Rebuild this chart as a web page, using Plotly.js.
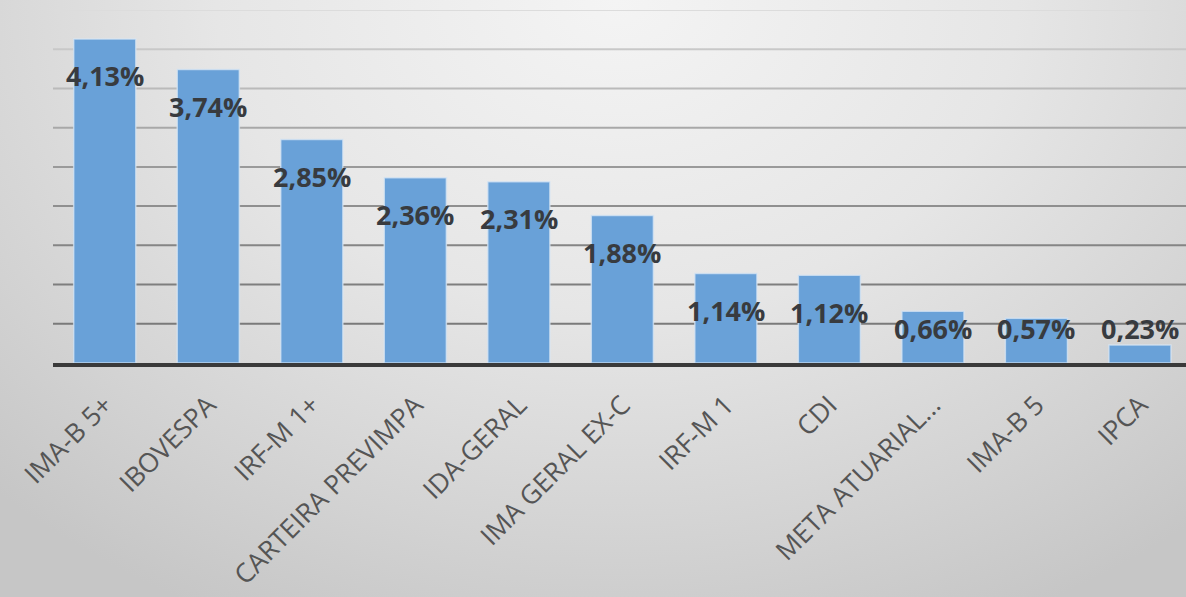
<!DOCTYPE html>
<html>
<head>
<meta charset="utf-8">
<script src="https://cdn.plot.ly/plotly-3.0.1.min.js"></script>
<style>
  html, body { margin: 0; padding: 0; }
  body {
    width: 1186px; height: 597px; overflow: hidden;
    background: radial-gradient(ellipse 75% 115% at 52% 0%, #f4f4f4 0%, #e6e6e6 45%, #d2d2d2 80%, #c6c6c6 100%);
  }
  #chart { width: 1186px; height: 597px; }
</style>
</head>
<body>
<div id="chart"></div>
<script>
// ---- data ----
const categories = ['IMA-B 5+', 'IBOVESPA', 'IRF-M 1+', 'CARTEIRA PREVIMPA', 'IDA-GERAL',
                    'IMA GERAL EX-C', 'IRF-M 1', 'CDI', 'META ATUARIAL...', 'IMA-B 5', 'IPCA'];
const values = [4.13, 3.74, 2.85, 2.36, 2.31, 1.88, 1.14, 1.12, 0.66, 0.57, 0.23];
const gridValues = [0.5, 1.0, 1.5, 2.0, 2.5, 3.0, 3.5, 4.0, 4.5];
const gridColors = ['#7a7a7a', '#7e7e7e', '#858585', '#8f8f8f', '#9a9a9a', '#a8a8a8', '#bababa', '#c8c8c8', '#dcdcdc'];

// ---- chart ----
const trace = {
  type: 'bar',
  x: categories,
  y: values,
  marker: { color: '#69a1d8', line: { color: 'rgba(215,230,244,0.75)', width: 1.5 } },
  hoverinfo: 'skip'
};

const annotations = categories.map((c, i) => ({
  x: c,
  y: Math.max(values[i] - 0.47, 0.446),
  xref: 'x', yref: 'y',
  text: values[i].toFixed(2).replace('.', ',') + '%',
  showarrow: false,
  xanchor: 'center', yanchor: 'middle',
  font: { family: 'Open Sans', size: 27, color: '#383b3f', weight: 700 }
}));

const shapes = gridValues.map((g, i) => ({
  type: 'line', layer: 'below',
  xref: 'paper', yref: 'y',
  x0: 0, x1: 1, y0: g, y1: g,
  line: { color: gridColors[i], width: 2 }
}));

const layout = {
  width: 1186, height: 597,
  margin: { l: 53, r: 0, t: 10, b: 234 },
  paper_bgcolor: 'rgba(0,0,0,0)',
  plot_bgcolor: 'rgba(0,0,0,0)',
  showlegend: false,
  bargap: 0.4,
  xaxis: {
    type: 'category',
    range: [-0.5, 10.445],
    tickangle: -45,
    tickfont: { family: 'Open Sans', size: 26.5, color: '#555555' },
    ticklabelstandoff: 12,
    showline: true, linecolor: '#3a3a3a', linewidth: 4,
    ticks: '', showgrid: false, zeroline: false,
    automargin: false, fixedrange: true
  },
  yaxis: {
    range: [0, 4.5],
    showgrid: false, zeroline: false, showticklabels: false,
    ticks: '', showline: false, automargin: false, fixedrange: true
  },
  annotations: annotations,
  shapes: shapes
};

Plotly.newPlot('chart', [trace], layout, { displayModeBar: false, staticPlot: true });
</script>
</body>
</html>
